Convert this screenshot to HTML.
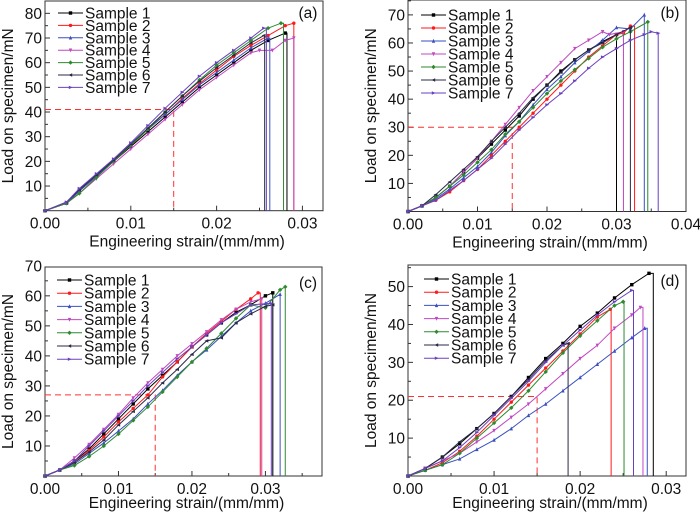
<!DOCTYPE html>
<html><head><meta charset="utf-8">
<style>
html,body{margin:0;padding:0;background:#fff;}
svg{display:block;font-family:"Liberation Sans",Arial,sans-serif;}
</style></head>
<body>
<svg id="fig" width="700" height="516" viewBox="0 0 700 516"></svg>
<script>
// ---------- data ----------
const sampleNames = ["Sample 1","Sample 2","Sample 3","Sample 4","Sample 5","Sample 6","Sample 7"];
// panel (a)
const aS1 = [[0,0],[.0025,3],[.004,8],[.006,14],[.008,20],[.010,26],[.012,32],[.014,38],[.016,44],[.018,50],[.020,55],[.022,60],[.024,65],[.026,69],[.028,72]];
const aS2 = [[0,0],[.0025,3],[.004,8.5],[.006,14.5],[.008,20.5],[.010,26.5],[.012,33],[.014,39],[.016,45.5],[.018,51.5],[.020,57],[.022,62.5],[.024,67],[.026,71],[.028,75],[.029,76]];
const aS3 = [[0,0],[.0025,3],[.004,8],[.006,14],[.008,20.5],[.010,26.5],[.012,33],[.014,39],[.016,45],[.018,51],[.020,56],[.022,61],[.024,66],[.026,70]];
const aS4 = [[0,0],[.0025,3],[.004,7],[.006,13],[.008,19],[.010,25],[.012,31],[.014,37],[.016,43],[.018,49],[.020,54],[.022,59],[.024,64],[.025,65],[.0265,65],[.028,69],[.029,70]];
const aS5 = [[0,0],[.0025,3],[.004,7],[.006,13.5],[.008,20],[.010,26.5],[.012,33],[.014,40],[.016,46.5],[.018,53],[.020,59],[.022,64],[.024,69],[.026,74],[.0275,76]];
const aS6 = [[0,0],[.0025,3.5],[.004,8.5],[.006,14.5],[.008,20.5],[.010,27],[.012,33.5],[.014,40],[.016,46.5],[.018,52.5],[.020,58],[.022,63],[.024,68],[.0255,71]];
const aS7 = [[0,0],[.0025,3.5],[.004,9],[.006,15],[.008,21],[.010,27.5],[.012,34.5],[.014,41.5],[.016,48],[.018,54.5],[.020,60],[.022,65],[.024,70],[.0255,74]];
const aCut = [.0282,.029,.0262,.029,.0278,.0256,.0258];
// panel (b)
const bS1 = [[0,0],[.002,2],[.004,5],[.006,9],[.008,14],[.010,19],[.012,24],[.014,29],[.016,34],[.018,40],[.020,45],[.022,50],[.024,54],[.026,57.5],[.028,60.5],[.030,63]];
const bS2 = [[0,0],[.002,2],[.004,4],[.006,7],[.008,11],[.010,15],[.012,20],[.014,25],[.016,30],[.018,35],[.020,40],[.022,45],[.024,50],[.026,55],[.028,59],[.030,63],[.031,63.5],[.032,66]];
const bS3 = [[0,0],[.002,2],[.004,4.5],[.006,8],[.008,12],[.010,16],[.012,21],[.014,27],[.016,32],[.018,38],[.020,43.5],[.022,48],[.024,53],[.026,57],[.028,61],[.030,65.5],[.032,65],[.034,70]];
const bS4 = [[0,0],[.002,2],[.004,5],[.006,9],[.008,14],[.010,19],[.012,25],[.014,31],[.016,37],[.018,43],[.020,48],[.022,53],[.024,58],[.026,61],[.028,64],[.029,63],[.031,64]];
const bS5 = [[0,0],[.002,2],[.004,5],[.006,9],[.008,13],[.010,17.5],[.012,22],[.014,27.5],[.016,32],[.018,37],[.020,42],[.022,46.5],[.024,50.5],[.026,54.5],[.028,58.5],[.030,61.5],[.032,64],[.0345,67.5]];
const bS6 = [[0,0],[.002,2],[.004,6],[.006,10.5],[.008,15],[.010,19.5],[.012,25],[.014,30],[.016,35],[.018,40.5],[.020,45],[.022,49.5],[.024,54],[.026,57.5],[.028,60],[.030,63],[.032,65.5]];
const bS7 = [[0,0],[.002,2],[.004,4],[.006,7.5],[.008,11],[.010,15],[.012,19],[.014,24],[.016,29],[.018,33.5],[.020,38],[.022,42],[.024,46.5],[.026,51],[.028,55],[.030,58],[.032,61],[.034,63],[.035,64],[.036,63.5]];
const bCut = [.030,.0326,.034,.031,.0345,.032,.036];
// panel (c)
const cS1 = [[0,0],[.002,2],[.004,5],[.006,9],[.008,14],[.010,19],[.012,24],[.014,29],[.016,33.5],[.018,38],[.020,43],[.022,47],[.024,51],[.026,54.5],[.028,57],[.030,60],[.031,61]];
const cS2 = [[0,0],[.002,2],[.004,4.5],[.006,8.5],[.008,13],[.010,18],[.012,22.5],[.014,27],[.016,33],[.018,38],[.020,43],[.022,47.5],[.024,51.5],[.026,55.5],[.028,59],[.029,61]];
const cS3 = [[0,0],[.002,2],[.004,4],[.006,7.5],[.008,11],[.010,15],[.012,19],[.014,24],[.016,28.5],[.018,33.5],[.020,38],[.022,42],[.024,46.5],[.026,51],[.028,55],[.030,57.5],[.032,60.5]];
const cS4 = [[0,0],[.002,2],[.004,6],[.006,10.5],[.008,15.5],[.010,20.5],[.012,26],[.014,31],[.016,35.5],[.018,40],[.020,44],[.022,48],[.024,52],[.026,55.5],[.028,58],[.0295,59]];
const cS5 = [[0,0],[.002,2],[.004,3.5],[.006,6.5],[.008,10],[.010,14],[.012,18.5],[.014,23],[.016,28],[.018,33],[.020,38],[.022,42.5],[.024,47.5],[.026,52.5],[.028,57],[.030,56],[.032,62],[.0327,63]];
const cS6 = [[0,0],[.002,2],[.004,4.5],[.006,8],[.008,12],[.010,17],[.012,21.5],[.014,26],[.016,31],[.018,35.5],[.020,40.5],[.022,45],[.024,46],[.026,51],[.028,54],[.030,56.5],[.031,57]];
const cS7 = [[0,0],[.002,2],[.004,5],[.006,10],[.008,15],[.010,20],[.012,25],[.014,30],[.016,34.5],[.018,39],[.020,43],[.022,47],[.024,51],[.026,54],[.028,57],[.0308,57.5]];
const cCut = [.031,.0293,.032,.0295,.0327,.031,.0308];
// panel (d)
const dS1 = [[0,0],[.002,2],[.004,5],[.006,8.5],[.008,12.5],[.010,16.5],[.012,21],[.014,26],[.016,31],[.018,35],[.020,39.5],[.022,43],[.024,47],[.026,50.5],[.028,53.5]];
const dS2 = [[0,0],[.002,1.5],[.004,3.5],[.006,6.5],[.008,10.5],[.010,15],[.012,19.5],[.014,24],[.016,28.5],[.018,33],[.020,37.5],[.022,42],[.0235,44]];
const dS3 = [[0,0],[.002,1.5],[.004,3],[.006,4.5],[.008,7],[.010,9.5],[.012,12.5],[.014,16],[.016,19],[.018,22.5],[.020,26],[.022,29.5],[.024,33],[.026,36.5],[.0275,39]];
const dS4 = [[0,0],[.002,2],[.004,4],[.006,6],[.008,9],[.010,12],[.012,15.5],[.014,19],[.016,23],[.018,27],[.020,31],[.022,34.5],[.024,39],[.026,42.5],[.027,44.5]];
const dS5 = [[0,0],[.002,1.5],[.004,3],[.006,6],[.008,10],[.010,14],[.012,18],[.014,22.5],[.016,27.5],[.018,32.5],[.020,37],[.022,41],[.024,45],[.025,46]];
const dS6 = [[0,0],[.002,2],[.004,5],[.006,9],[.008,12.5],[.010,16.5],[.012,21],[.014,25.5],[.016,30.5],[.018,34.5],[.0186,35]];
const dS7 = [[0,0],[.002,2],[.004,4],[.006,7.5],[.008,11.5],[.010,16],[.012,20.5],[.014,25],[.016,30],[.018,34.5],[.020,38.5],[.022,42.5],[.024,46],[.026,49]];
const dCut = [.0285,.0236,.0278,.0273,.0251,.0186,.0262];

const xTicksA = [0,0.01,0.02,0.03];
const xTicksB = [0,0.01,0.02,0.03,0.04];
const yTicksA = [10,20,30,40,50,60,70,80];
const yTicksB = [10,20,30,40,50,60,70];
const yTicksD = [10,20,30,40,50];
const refLoad = [41,30,27,21];
const refStrain = 0.015;
const panelLabels = ["(a)","(b)","(c)","(d)"];

// ---------- styles ----------
const colors = ["#000000","#ff1a1a","#3a4fc0","#c048c0","#2e8a2e","#2a2a48","#6a40c0"];
const markers = ["square","circle","tri-up","tri-down","diamond","tri-left","tri-right"];

const NS = "http://www.w3.org/2000/svg";
const svg = document.getElementById("fig");
function mk(tag, attrs, parent){ const e=document.createElementNS(NS,tag); for(const k in attrs) e.setAttribute(k,attrs[k]); (parent||svg).appendChild(e); return e; }

function marker(g, type, x, y, col){
  const r=1.7; let e;
  if(type==="square") e=mk("rect",{x:x-r,y:y-r,width:2*r,height:2*r,fill:col},g);
  else if(type==="circle") e=mk("circle",{cx:x,cy:y,r:r,fill:col},g);
  else {
    let p;
    if(type==="tri-up") p=[[x,y-r-.5],[x-r,y+r],[x+r,y+r]];
    if(type==="tri-down") p=[[x,y+r+.5],[x-r,y-r],[x+r,y-r]];
    if(type==="tri-left") p=[[x-r-.5,y],[x+r,y-r],[x+r,y+r]];
    if(type==="tri-right") p=[[x+r+.5,y],[x-r,y-r],[x-r,y+r]];
    if(type==="diamond") p=[[x,y-r-.5],[x+r+.5,y],[x,y+r+.5],[x-r-.5,y]];
    e=mk("polygon",{points:p.map(q=>q.join(",")).join(" "),fill:col},g);
  }
  
  
}

function panel(cfg){
  const {id,L,T,R,B,xmax,ymax,xticks,yticks,series,cuts,label,ref,legX,legY,legDy,labX,labY,titleDy} = cfg;
  const g = mk("g",{});
  
  
  const sx = v => L + v/xmax*(R-L);
  const sy = v => B - v/ymax*(B-T);
  const fr = mk("rect",{x:L,y:T,width:R-L,height:B-T,fill:"none",stroke:"#333","stroke-width":1},g);
  
  
  for(let v=0; v<=xmax+1e-9; v+=0.005){
    const major = Math.abs(v/0.01-Math.round(v/0.01))<1e-6;
    const t = mk("line",{x1:sx(v),x2:sx(v),y1:B,y2:B-(major?5:3),stroke:"#333"},g);
    
    
  }
  xticks.forEach(v=>{
    const t=mk("text",{x:sx(v),y:B+18,"text-anchor":"middle","font-size":15.5,fill:"#111"},g);
    t.textContent=v.toFixed(2);
    
    
  });
  for(let v=5; v<=ymax+1e-9; v+=5){
    const major = v%10===0;
    const t = mk("line",{x1:L,x2:L+(major?5:3),y1:sy(v),y2:sy(v),stroke:"#333"},g);
    
    
  }
  yticks.forEach(v=>{
    const t=mk("text",{x:L-3,y:sy(v)+5.5,"text-anchor":"end","font-size":15.5,fill:"#111"},g);
    t.textContent=v;
    
    
  });
  const xt=mk("text",{x:(L+R)/2+3,y:B+titleDy,"text-anchor":"middle","font-size":15.5,fill:"#111"},g);
  xt.textContent="Engineering strain/(mm/mm)";
  
  
  const yx=L-32, yc=(T+B)/2;
  const yt=mk("text",{x:yx,y:yc,"text-anchor":"middle","font-size":15.5,fill:"#111",transform:`rotate(-90 ${yx} ${yc})`},g);
  yt.textContent="Load on specimen/mN";
  
  
  const rl=mk("polyline",{points:`${sx(0)},${sy(ref)} ${sx(refStrain)},${sy(ref)} ${sx(refStrain)},${sy(0)}`,fill:"none",stroke:"#ff3030","stroke-width":1,"stroke-dasharray":"6,4"},g);
  
  
  series.forEach((pts,i)=>{
    const sg=mk("g",{},g);
    
    
    const last=pts[pts.length-1];
    const all=pts.map(p=>[sx(p[0]),sy(p[1])]);
    all.push([sx(cuts[i]),sy(last[1])]);
    all.push([sx(cuts[i]),sy(0)]);
    const pl=mk("polyline",{points:all.map(q=>q.join(",")).join(" "),fill:"none",stroke:colors[i],"stroke-width":1},sg);
    
    
    pts.forEach(p=>marker(sg,markers[i],sx(p[0]),sy(p[1]),colors[i]));
  });
  const lg=mk("g",{},g);
  
  
  sampleNames.forEach((n,i)=>{
    const y=legY+i*legDy;
    const e=mk("g",{},lg);
    
    
    mk("line",{x1:legX,x2:legX+25,y1:y,y2:y,stroke:colors[i],"stroke-width":1},e);
    marker(e,markers[i],legX+12.5,y,colors[i]);
    const t=mk("text",{x:legX+27,y:y+5.5,"font-size":15.5,fill:"#111"},e);
    t.textContent=n;
  });
  const pl=mk("text",{x:labX,y:labY,"text-anchor":"middle","font-size":15.5,fill:"#111"},g);
  pl.textContent=label;
  
  
}

panel({id:"a",L:45,T:1,R:323,B:210.7,xmax:0.0324,ymax:85,xticks:xTicksA,yticks:yTicksA,
  series:[aS1,aS2,aS3,aS4,aS5,aS6,aS7],cuts:aCut,label:panelLabels[0],ref:refLoad[0],
  legX:58,legY:13,legDy:12.4,labX:308,labY:18,titleDy:36});
panel({id:"b",L:408,T:0,R:686,B:211.5,xmax:0.04,ymax:75.3,xticks:xTicksB,yticks:yTicksB,
  series:[bS1,bS2,bS3,bS4,bS5,bS6,bS7],cuts:bCut,label:panelLabels[1],ref:refLoad[1],
  legX:421,legY:15,legDy:13,labX:670,labY:18,titleDy:36});
panel({id:"c",L:45,T:267,R:322,B:476,xmax:0.0377,ymax:69.6,xticks:xTicksA,yticks:yTicksB,
  series:[cS1,cS2,cS3,cS4,cS5,cS6,cS7],cuts:cCut,label:panelLabels[2],ref:refLoad[2],
  legX:57,legY:280,legDy:13.2,labX:308,labY:288,titleDy:32});
panel({id:"d",L:408,T:265,R:686,B:476,xmax:0.0323,ymax:55.7,xticks:xTicksA,yticks:yTicksD,
  series:[dS1,dS2,dS3,dS4,dS5,dS6,dS7],cuts:dCut,label:panelLabels[3],ref:refLoad[3],
  legX:424,legY:279,legDy:13.2,labX:670,labY:286,titleDy:32});
</script>
</body></html>
